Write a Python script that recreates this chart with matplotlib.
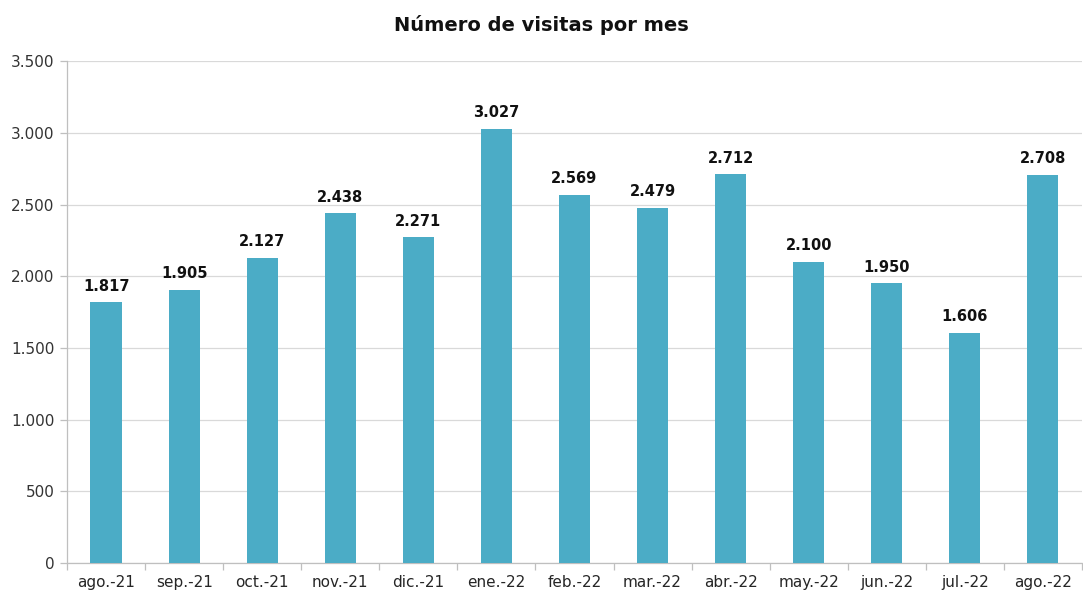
import matplotlib
matplotlib.use("Agg")
import matplotlib.pyplot as plt
from matplotlib.ticker import FuncFormatter, FixedLocator
import numpy as np

months = ["ago.-21", "sep.-21", "oct.-21", "nov.-21", "dic.-21", "ene.-22", "feb.-22",
          "mar.-22", "abr.-22", "may.-22", "jun.-22", "jul.-22", "ago.-22"]
visits = [1817, 1905, 2127, 2438, 2271, 3027, 2569, 2479, 2712, 2100, 1950, 1606, 2708]
title = "Número de visitas por mes"

plt.rcParams['font.family'] = ['DejaVu Sans']

def es_thousands(v, pos=None):
    return f"{int(round(v)):,}".replace(",", ".")

fig = plt.figure(figsize=(10.83, 5.94), dpi=100)
ax = fig.add_axes([0.0619, 0.0522, 0.9371, 0.8448])

x = np.arange(len(months))
ax.bar(x, visits, width=0.4, color="#4BACC6", zorder=3)

for xi, v in zip(x, visits):
    ax.text(xi, v + 60, es_thousands(v), ha="center", va="bottom",
            fontsize=10.5, fontweight="bold", color="#111111")

ax.set_xlim(-0.5, len(months) - 0.5)
ax.set_ylim(0, 3500)
ax.set_yticks(np.arange(0, 3501, 500))
ax.yaxis.set_major_formatter(FuncFormatter(es_thousands))
ax.grid(axis="y", color="#D9D9D9", linewidth=0.9, zorder=0)

ax.set_xticks(x)
ax.set_xticklabels(months)
ax.tick_params(axis="x", which="major", length=0, labelsize=11, pad=9, colors="#262626")
ax.xaxis.set_minor_locator(FixedLocator(np.arange(-0.5, len(months), 1.0)))
ax.tick_params(axis="x", which="minor", length=5, color="#BFBFBF", width=0.9)
ax.tick_params(axis="y", length=5, color="#BFBFBF", width=0.9, labelsize=11,
               labelcolor="#333333", pad=4)

for s in ["top", "right"]:
    ax.spines[s].set_visible(False)
for s in ["left", "bottom"]:
    ax.spines[s].set_color("#BFBFBF")
    ax.spines[s].set_linewidth(0.9)

fig.suptitle(title, x=0.5, y=0.975, fontsize=14, fontweight="bold", color="#111111", va="top")

fig.savefig("out.png", dpi=100, facecolor="white")
